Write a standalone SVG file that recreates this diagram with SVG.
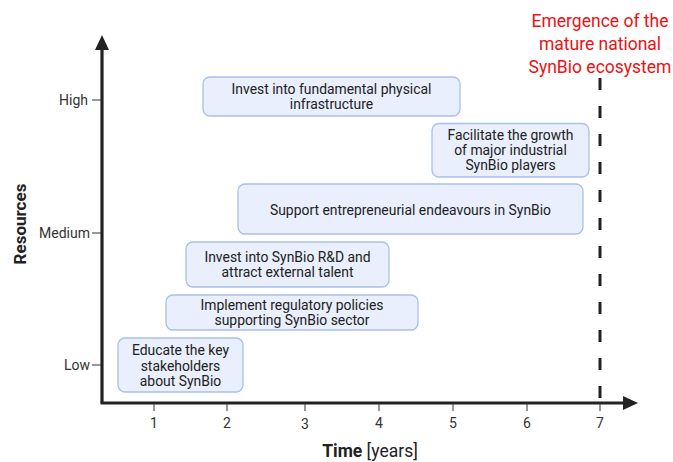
<svg xmlns="http://www.w3.org/2000/svg" width="673" height="462" viewBox="0 0 673 462">
<style>
text{font-family:Roboto,"Liberation Sans",sans-serif;fill:#222;}
.box rect{fill:#e9effc;stroke:#a9c0ea;stroke-width:1.3;}
.box text{font-size:13.9px;text-anchor:middle;}
.tick{stroke:#333;stroke-width:1;}
.yl{font-size:14px;text-anchor:end;fill:#333;}
.xl{font-size:14px;text-anchor:middle;fill:#333;}
.red{fill:#ee1111;font-size:17.5px;text-anchor:middle;}
</style>
<rect width="673" height="462" fill="#fff"/>
<g id="axes">
<line x1="102" y1="403" x2="102" y2="48" stroke="#222" stroke-width="3.2"/>
<polygon points="102,35 95,50 109,50" fill="#222"/>
<line x1="100.5" y1="403" x2="624" y2="403" stroke="#222" stroke-width="3.2"/>
<polygon points="638,403 623,396 623,410" fill="#222"/>
<line class="tick" x1="92" y1="100" x2="101" y2="100"/>
<line class="tick" x1="92" y1="233" x2="101" y2="233"/>
<line class="tick" x1="92" y1="365" x2="101" y2="365"/>
<text class="yl" x="88" y="105">High</text>
<text class="yl" x="90" y="238">Medium</text>
<text class="yl" x="90" y="370">Low</text>
<line class="tick" x1="154" y1="404" x2="154" y2="411"/>
<line class="tick" x1="227" y1="404" x2="227" y2="411"/>
<line class="tick" x1="305" y1="404" x2="305" y2="411"/>
<line class="tick" x1="379" y1="404" x2="379" y2="411"/>
<line class="tick" x1="453" y1="404" x2="453" y2="411"/>
<line class="tick" x1="527" y1="404" x2="527" y2="411"/>
<line class="tick" x1="600" y1="404" x2="600" y2="411"/>
<text class="xl" x="154" y="428">1</text>
<text class="xl" x="227" y="428">2</text>
<text class="xl" x="305" y="429">3</text>
<text class="xl" x="379" y="428">4</text>
<text class="xl" x="453" y="428">5</text>
<text class="xl" x="527" y="428">6</text>
<text class="xl" x="600" y="428">7</text>
<text transform="translate(26,224) rotate(-90)" font-size="17" font-weight="bold" text-anchor="middle">Resources</text>
<text x="370" y="457" font-size="17.5" text-anchor="middle"><tspan font-weight="bold">Time</tspan> [years]</text>
</g>
<g id="milestone">
<line x1="600" y1="78" x2="600" y2="403" stroke="#222" stroke-width="3" stroke-dasharray="12,16"/>
<text class="red" x="600" y="27">Emergence of the</text>
<text class="red" x="600" y="50">mature national</text>
<text class="red" x="600" y="73">SynBio ecosystem</text>
</g>
<g id="connectors"></g>
<g id="n1" class="box">
<rect x="203" y="77" width="257" height="39" rx="7"/>
<text x="331.5" y="94">Invest into fundamental physical</text>
<text x="331.5" y="109">infrastructure</text>
</g>
<g id="n2" class="box">
<rect x="432" y="123.5" width="157" height="53.5" rx="7"/>
<text x="510.5" y="140">Facilitate the growth</text>
<text x="510.5" y="155">of major industrial</text>
<text x="510.5" y="170">SynBio players</text>
</g>
<g id="n3" class="box">
<rect x="238" y="184" width="345" height="50" rx="7"/>
<text x="410.5" y="214.5">Support entrepreneurial endeavours in SynBio</text>
</g>
<g id="n4" class="box">
<rect x="186" y="242" width="203" height="45" rx="7"/>
<text x="287.5" y="261.5">Invest into SynBio R&amp;D and</text>
<text x="287.5" y="276.5">attract external talent</text>
</g>
<g id="n5" class="box">
<rect x="166" y="295" width="252" height="35" rx="7"/>
<text x="292" y="309.5">Implement regulatory policies</text>
<text x="292" y="325">supporting SynBio sector</text>
</g>
<g id="n6" class="box">
<rect x="118" y="338" width="125" height="54" rx="7"/>
<text x="180.5" y="355">Educate the key</text>
<text x="180.5" y="370.5">stakeholders</text>
<text x="180.5" y="386">about SynBio</text>
</g>
</svg>
